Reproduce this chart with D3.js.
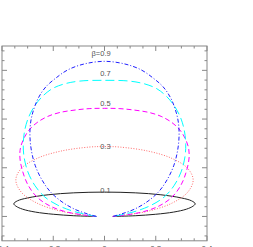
<!DOCTYPE html>
<html><head><meta charset="utf-8">
<script src="https://cdn.jsdelivr.net/npm/d3@7"></script>
<style>body{margin:0;background:#fff}svg{display:block}</style>
</head><body>
<script>
// Beta values and label text
const betas = [0.1, 0.3, 0.5, 0.7, 0.9];
const labels = ["0.1", "0.3", "0.5", "0.7", "\u03b2=0.9"];
const labelY = [0.108, 0.290, 0.467, 0.588, 0.670];

// Curve points (x, y), left end -> around the top -> right end
const curve01x = [-0.032,-0.12,-0.20,-0.27,-0.32,-0.345,-0.354,-0.34,-0.30,-0.22,-0.12,0,0.12,0.22,0.30,0.34,0.354,0.345,0.32,0.27,0.20,0.12,0.032];
const curve01y = [0,0.003,0.009,0.018,0.030,0.042,0.052,0.064,0.076,0.089,0.097,0.100,0.097,0.089,0.076,0.064,0.052,0.042,0.030,0.018,0.009,0.003,0];

const curve03x = [-0.032,-0.088,-0.172,-0.264,-0.325,-0.346,-0.325,-0.264,-0.172,-0.059,0,0.059,0.172,0.264,0.325,0.346,0.325,0.264,0.172,0.088,0.032];
const curve03y = [0,0.007,0.022,0.055,0.100,0.150,0.197,0.238,0.268,0.285,0.287,0.285,0.268,0.238,0.197,0.150,0.100,0.055,0.022,0.007,0];

const curve05x = [-0.032,-0.088,-0.150,-0.213,-0.264,-0.299,-0.320,-0.330,-0.328,-0.314,-0.291,-0.260,-0.221,-0.174,-0.115,-0.057,0,0.057,0.115,0.174,0.221,0.260,0.291,0.314,0.328,0.330,0.320,0.299,0.264,0.213,0.150,0.088,0.032];
const curve05y = [0,0.007,0.019,0.043,0.080,0.130,0.187,0.240,0.281,0.322,0.359,0.388,0.411,0.427,0.437,0.443,0.444,0.443,0.437,0.427,0.411,0.388,0.359,0.322,0.281,0.240,0.187,0.130,0.080,0.043,0.019,0.007,0];

const curve07x = [-0.032,-0.076,-0.127,-0.182,-0.233,-0.271,-0.299,-0.314,-0.317,-0.3125,-0.299,-0.275,-0.244,-0.205,-0.158,-0.096,0,0.096,0.158,0.205,0.244,0.275,0.299,0.3125,0.317,0.314,0.299,0.271,0.233,0.182,0.127,0.076,0.032];
const curve07y = [0,0.009,0.023,0.046,0.080,0.126,0.183,0.245,0.294,0.347,0.400,0.450,0.491,0.524,0.544,0.556,0.559,0.556,0.544,0.524,0.491,0.450,0.400,0.347,0.294,0.245,0.183,0.126,0.080,0.046,0.023,0.009,0];

const curve09x = [-0.032,-0.068,-0.115,-0.166,-0.211,-0.244,-0.270,-0.285,-0.291,-0.288,-0.277,-0.258,-0.229,-0.189,-0.143,-0.080,0,0.080,0.143,0.189,0.229,0.258,0.277,0.288,0.291,0.285,0.270,0.244,0.211,0.166,0.115,0.068,0.032];
const curve09y = [0,0.011,0.029,0.060,0.101,0.150,0.208,0.269,0.331,0.388,0.437,0.487,0.532,0.569,0.602,0.626,0.637,0.626,0.602,0.569,0.532,0.487,0.437,0.388,0.331,0.269,0.208,0.150,0.101,0.060,0.029,0.011,0];

const xTickLabels = ["-0.4", "-0.2", "0", "0.2", "0.4"];
const xMajor = [-0.4, -0.2, 0, 0.2, 0.4];

const curvesX = [curve01x, curve03x, curve05x, curve07x, curve09x];
const curvesY = [curve01y, curve03y, curve05y, curve07y, curve09y];
const colors = ["#222222", "#ff6a6a", "#ff00ff", "#00ffff", "#2020ff"];
const dashes = [null, "1,1.6", "5,3", "9,4", "4,2,1,2"];

const W = 253, H = 247;
const svg = d3.select("body").append("svg").attr("width", W).attr("height", H);
const x = d3.scaleLinear().domain([-0.4, 0.4]).range([2, 207]);
const y = d3.scaleLinear().domain([-0.1, 0.7]).range([240.8, 46]);

const line = d3.line().x(d => x(d[0])).y(d => y(d[1])).curve(d3.curveCatmullRom.alpha(0.5));

curvesX.forEach((cx, i) => {
  const pts = cx.map((v, j) => [v, curvesY[i][j]]);
  const p = svg.append("path").attr("d", line(pts)).attr("fill", "none")
    .attr("stroke", colors[i]).attr("stroke-width", 1);
  if (dashes[i]) p.attr("stroke-dasharray", dashes[i]);
});

// frame
svg.append("rect").attr("x", x(-0.4)).attr("y", y(0.7)).attr("width", x(0.4) - x(-0.4))
  .attr("height", y(-0.1) - y(0.7)).attr("fill", "none").attr("stroke", "#888").attr("stroke-width", 1);

const tickCol = "#888";
const xMinor = d3.range(-0.4, 0.4001, 0.05);
const yMinor = d3.range(-0.08, 0.7, 0.04);
const yMajor = [0, 0.2, 0.4, 0.6];
const isMaj = (v, arr) => arr.some(a => Math.abs(a - v) < 1e-6);
// bottom / top ticks
xMinor.forEach(v => {
  const L = isMaj(v, xMajor) ? 5 : 2.5;
  svg.append("line").attr("x1", x(v)).attr("x2", x(v)).attr("y1", y(-0.1)).attr("y2", y(-0.1) - L).attr("stroke", tickCol);
  svg.append("line").attr("x1", x(v)).attr("x2", x(v)).attr("y1", y(0.7)).attr("y2", y(0.7) + L).attr("stroke", tickCol);
});
yMinor.forEach(v => {
  const L = isMaj(v, yMajor) ? 5 : 2.5;
  svg.append("line").attr("x1", x(-0.4)).attr("x2", x(-0.4) + L).attr("y1", y(v)).attr("y2", y(v)).attr("stroke", tickCol);
  svg.append("line").attr("x1", x(0.4)).attr("x2", x(0.4) - L).attr("y1", y(v)).attr("y2", y(v)).attr("stroke", tickCol);
});
// x tick labels (partly below the window edge, as in the reference)
xMajor.forEach((v, i) => {
  svg.append("text").attr("x", x(v)).attr("y", 250.5).attr("text-anchor", "middle")
    .attr("font-family", "Liberation Sans, Arial, sans-serif").attr("font-size", 8).attr("fill", "#555")
    .text(xTickLabels[i]);
});
// curve labels
betas.forEach((b, i) => {
  svg.append("text").attr("x", x(0.024)).attr("y", y(labelY[i]) + 2.8).attr("text-anchor", "end")
    .attr("font-family", "Liberation Sans, Arial, sans-serif").attr("font-size", 7.5).attr("fill", "#555")
    .text(labels[i]);
});
</script>
</body></html>
